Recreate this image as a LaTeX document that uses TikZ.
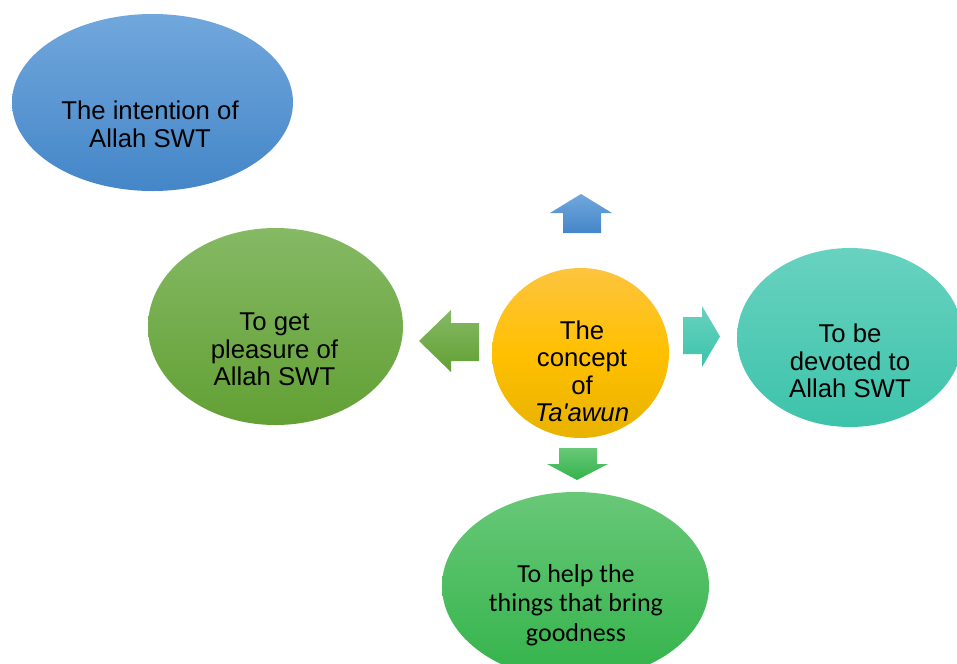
\documentclass[tikz,border=0pt]{standalone}
\usepackage{fontspec}
\setmainfont{Liberation Sans}
\newfontfamily\calib{Carlito}
\usetikzlibrary{shapes.geometric}
\definecolor{blueT}{HTML}{71A7DC}
\definecolor{blueB}{HTML}{4486C8}
\definecolor{olivT}{HTML}{85B964}
\definecolor{olivB}{HTML}{62A034}
\definecolor{goldT}{HTML}{FDC43F}
\definecolor{goldM}{HTML}{FFC000}
\definecolor{goldB}{HTML}{E8B200}
\definecolor{tealT}{HTML}{68D2C0}
\definecolor{tealB}{HTML}{3DC3AA}
\definecolor{grnT}{HTML}{68C878}
\definecolor{grnB}{HTML}{33B34A}
\tikzset{
  blob/.style={ellipse, inner sep=0pt, draw=none},
  txt/.style={align=center, inner sep=0pt, font=\fontsize{19.3}{20.6}\selectfont},
  ctxt/.style={align=center, inner sep=0pt, font=\calib\fontsize{19.5}{22.1}\selectfont},
}
\begin{document}
\begin{tikzpicture}[x=0.75pt,y=-0.75pt]
\useasboundingbox (0,0) rectangle (957,664);
\clip (0,0) rectangle (957,664);
% ellipses
\node[blob, top color=blueT, bottom color=blueB, minimum width={281*0.75pt}, minimum height={177*0.75pt}] (intent) at (152.5,102.5) {};
\node[blob, top color=olivT, bottom color=olivB, minimum width={255*0.75pt}, minimum height={197*0.75pt}] (pleasure) at (275.5,326.5) {};
\node[blob, top color=goldT, bottom color=goldB, middle color=goldM, minimum width={177*0.75pt}, minimum height={170*0.75pt}] (concept) at (580.5,353) {};
\node[blob, top color=tealT, bottom color=tealB, minimum width={226*0.75pt}, minimum height={179*0.75pt}] (devoted) at (850,337.5) {};
\node[blob, top color=grnT, bottom color=grnB, minimum width={267*0.75pt}, minimum height={188*0.75pt}] (help) at (575.5,586) {};
% arrows
\shade[top color=blueT, bottom color=blueB] (563,233) -- (563,213) -- (550,213) -- (581,194) -- (612,213) -- (601,213) -- (601,233) -- cycle;
\shade[top color=olivT, bottom color=olivB] (479,323) -- (451,323) -- (451,310) -- (419,341) -- (451,372) -- (451,361) -- (479,361) -- cycle;
\shade[top color=tealT, bottom color=tealB] (683,317) -- (702,317) -- (702,306) -- (720,336.5) -- (702,367) -- (702,354) -- (683,354) -- cycle;
\shade[top color=grnT, bottom color=grnB] (559,448) -- (597,448) -- (597,464) -- (608,464) -- (577,480) -- (547,464) -- (559,464) -- cycle;
% texts
\node[txt] (tintent) at (150,124.5) {The intention of\\Allah SWT};
\node[txt] (tpleasure) at (274.5,349.5) {To get\\pleasure of\\Allah SWT};
\node[txt] (tconcept) at (582,371.5) {The\\concept\\of\\\textit{Ta\textquotesingle awun}};
\node[txt] (tdevoted) at (850,361) {To be\\devoted to\\Allah SWT};
\node[ctxt] (thelp) at (576,605) {To help the\\things that bring\\goodness};
\end{tikzpicture}
\end{document}
